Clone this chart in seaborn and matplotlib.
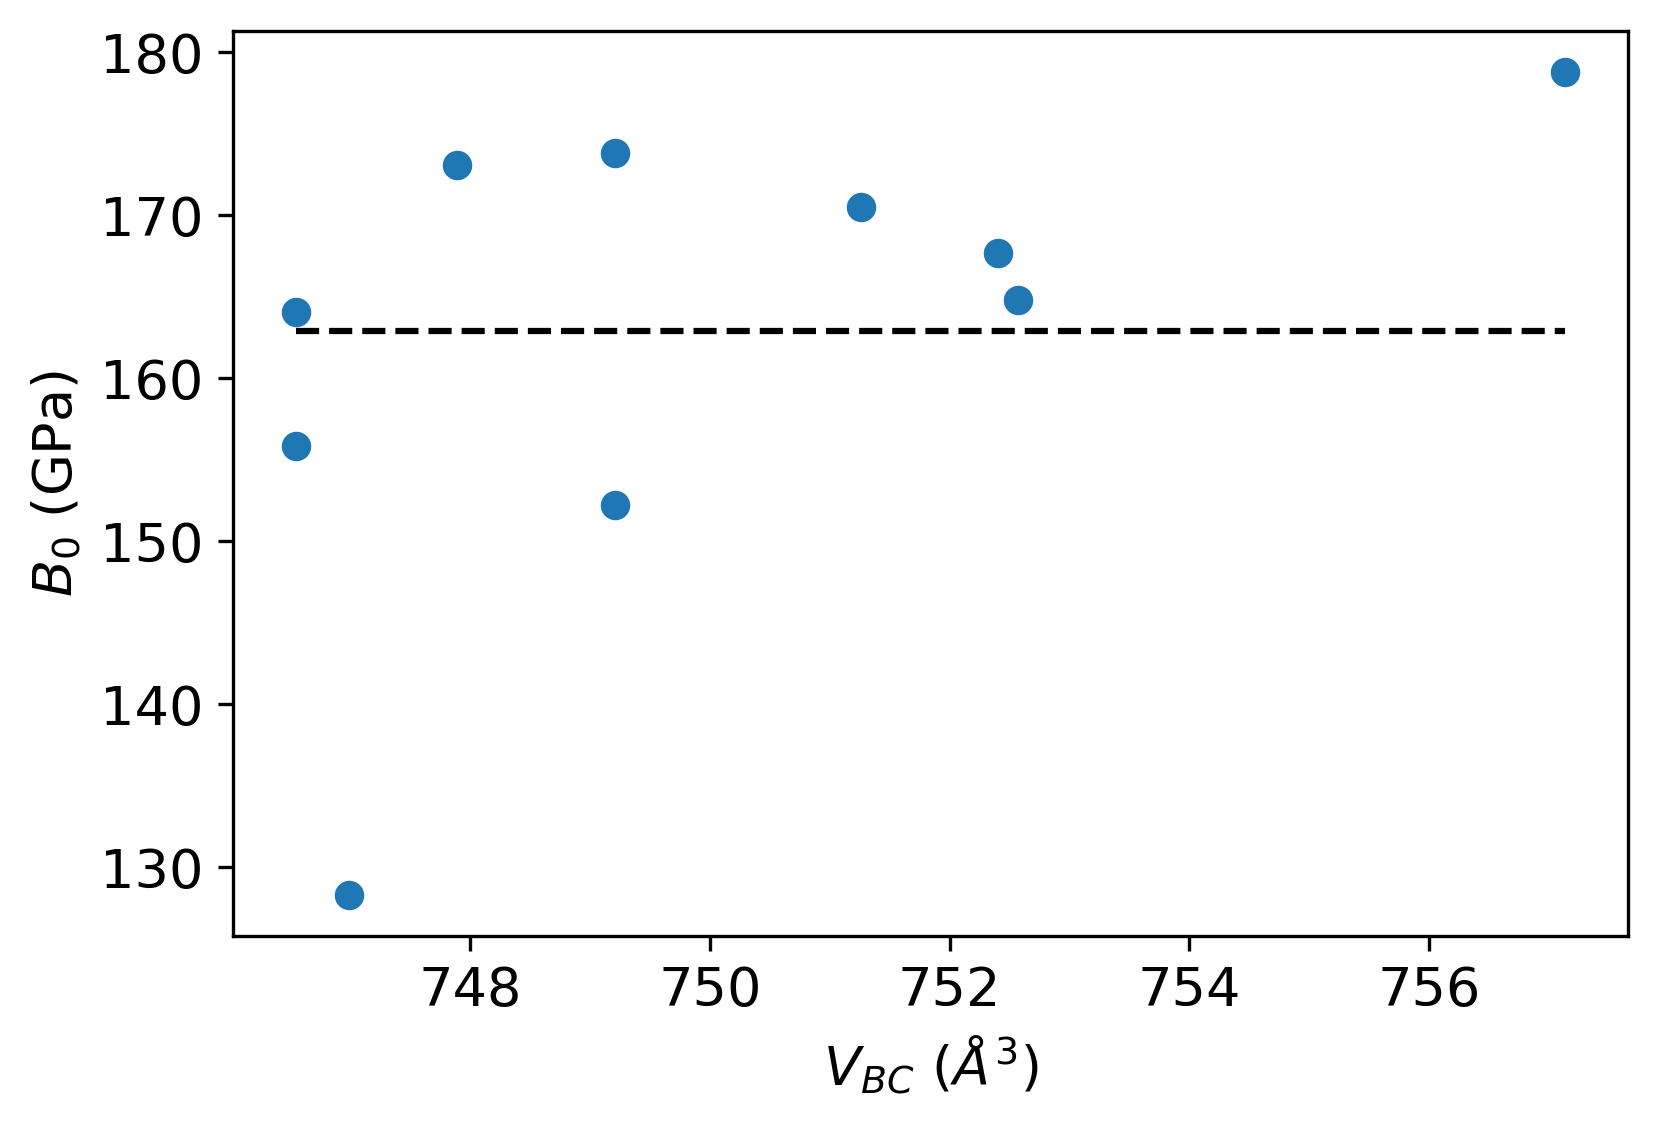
import numpy as np
import pandas as pd
import matplotlib
matplotlib.use("Agg")
import matplotlib.pyplot as plt
import seaborn as sns

# volumes and bulk moduli
v_bc = [746.55, 746.55, 746.99, 747.89, 749.21, 749.21, 751.26, 752.40, 752.57, 757.13]
b0 = [164.08, 155.86, 128.30, 173.07, 173.79, 152.23, 170.49, 167.70, 164.79, 178.77]

df = pd.DataFrame({"V_BC": v_bc, "B0": b0})

plt.rcParams["font.size"] = 13

fig = plt.figure(figsize=(1658 / 300, 1127 / 300), dpi=300)
ax = fig.add_axes([0.1405, 0.1695, 0.8414, 0.8030])

sns.scatterplot(data=df, x="V_BC", y="B0", ax=ax, color="#1f77b4", s=50, linewidth=0)

# mean line across the volume range
mean_b0 = np.mean(b0)
ax.plot([min(v_bc), max(v_bc)], [mean_b0, mean_b0], "k--", lw=1.5)

ax.set_xlabel(r"$V_{BC}\ (\AA^3)$")
ax.set_ylabel(r"$B_0$ (GPa)")

fig.savefig("out.png", dpi=300)
